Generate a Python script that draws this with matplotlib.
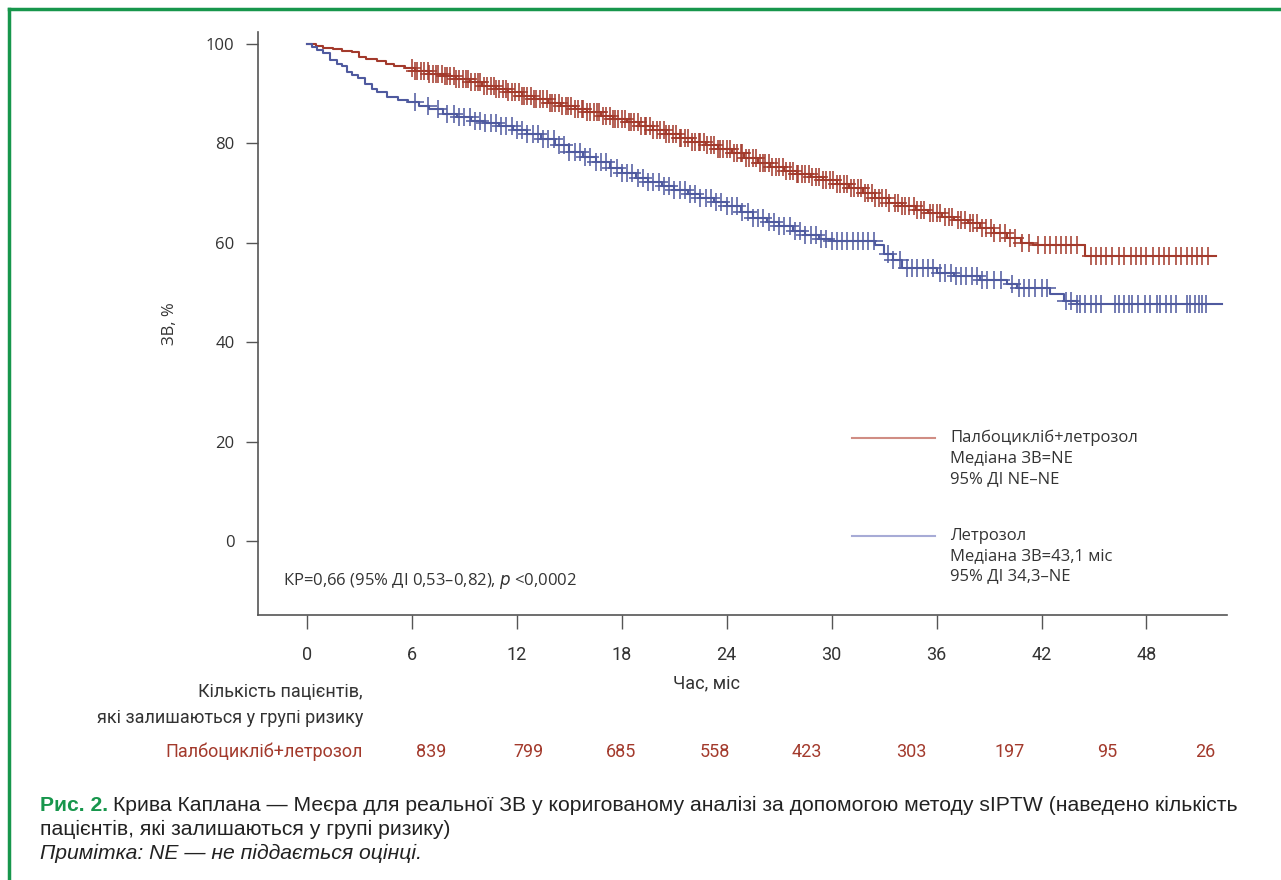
import numpy as np
import matplotlib.pyplot as plt
from matplotlib.lines import Line2D

# --- data ---
red_t = [0, 0.5, 0.9, 1.5, 2.0, 2.6, 3.0, 3.4, 4.0, 4.5, 5.0, 5.6, 6.2, 7.0, 7.8, 8.5,
         9.3, 10.0, 10.8, 11.5, 12.3, 13.0, 13.8, 14.5, 15.3, 16.0, 16.8, 17.5, 18.3,
         19.0, 19.8, 20.5, 21.3, 22.0, 22.8, 23.5, 24.3, 25.0, 25.8, 26.5, 27.3, 28.0,
         28.8, 29.5, 30.3, 31.0, 31.8, 32.5, 33.3, 34.0, 34.8, 35.5, 36.3, 37.0, 37.8,
         38.5, 39.3, 40.0, 40.8, 41.5, 44.5, 52.0]
red_s = [100, 99.6, 99.2, 98.9, 98.6, 98.3, 97.3, 96.9, 96.5, 96.0, 95.6, 95.2, 94.6,
         94.0, 93.5, 92.9, 92.3, 91.6, 91.0, 90.3, 89.6, 88.9, 88.2, 87.6, 86.9, 86.3,
         85.6, 85.0, 84.2, 83.4, 82.6, 81.8, 81.0, 80.3, 79.6, 78.9, 78.0, 77.0, 76.0,
         75.2, 74.4, 73.8, 73.2, 72.6, 71.8, 71.0, 70.0, 69.0, 68.0, 67.3, 66.6, 65.9,
         65.2, 64.6, 63.9, 63.0, 62.0, 61.0, 60.0, 59.6, 57.3, 57.3]

blue_t = [0, 0.3, 0.6, 0.9, 1.3, 1.7, 2.0, 2.3, 2.6, 2.9, 3.3, 3.7, 4.0, 4.6, 5.2, 5.8,
          6.4, 7.0, 7.8, 8.6, 9.4, 10.2, 11.0, 11.8, 12.6, 13.4, 14.2, 15.0, 15.8, 16.5,
          17.3, 18.0, 18.8, 19.5, 20.3, 21.0, 21.8, 22.5, 23.3, 24.0, 24.8, 25.5, 26.3,
          27.0, 27.8, 28.5, 29.3, 30.0, 32.5, 33.0, 33.5, 34.0, 36.0, 37.0, 38.5, 40.0,
          40.6, 42.5, 43.3, 44.0, 52.3]
blue_s = [100, 99.4, 98.8, 98.2, 96.8, 96.0, 95.6, 94.4, 93.8, 93.2, 92.0, 91.0, 90.3,
          89.4, 88.8, 88.4, 87.6, 86.9, 86.0, 85.3, 84.6, 84.0, 83.4, 82.6, 81.8, 80.9,
          79.6, 78.3, 77.2, 76.2, 75.0, 74.0, 73.0, 72.2, 71.4, 70.6, 69.8, 69.0, 68.3,
          67.4, 66.2, 65.0, 64.1, 63.3, 62.4, 61.6, 60.8, 60.3, 59.5, 57.8, 56.5, 55.0,
          54.0, 53.4, 52.6, 51.8, 50.8, 49.6, 48.2, 47.6, 47.6]

red_cens = [6.0, 6.2, 6.3, 6.5, 6.7, 6.9, 7.0, 7.2, 7.4, 7.5, 7.7, 7.9, 8.0, 8.2, 8.4,
            8.5, 8.7, 8.9, 9.1, 9.2, 9.4, 9.6, 9.8, 9.9, 10.1, 10.3, 10.5, 10.7, 10.8,
            11.0, 11.2, 11.4, 11.5, 11.7, 11.9, 12.1, 12.3, 12.4, 12.6, 12.8, 13.0, 13.1,
            13.3, 13.5, 13.7, 13.9, 14.0, 14.2, 14.4, 14.6, 14.8, 14.9, 15.1, 15.3, 15.5,
            15.7, 15.8, 16.0, 16.2, 16.4, 16.6, 16.7, 16.9, 17.1, 17.3, 17.5, 17.6, 17.8,
            18.0, 18.2, 18.4, 18.5, 18.7, 18.9, 19.1, 19.3, 19.4, 19.6, 19.8, 20.0, 20.2,
            20.4, 20.5, 20.7, 20.9, 21.1, 21.3, 21.4, 21.6, 21.8, 22.0, 22.2, 22.4, 22.5,
            22.7, 22.9, 23.1, 23.3, 23.5, 23.6, 23.8, 24.0, 24.2, 24.4, 24.6, 24.8, 24.9,
            25.1, 25.3, 25.5, 25.7, 25.9, 26.1, 26.2, 26.4, 26.6, 26.8, 27.0, 27.2, 27.4,
            27.6, 27.8, 28.0, 28.1, 28.3, 28.5, 28.7, 28.9, 29.1, 29.3, 29.5, 29.7, 29.9,
            30.1, 30.3, 30.5, 30.7, 30.9, 31.1, 31.3, 31.5, 31.7, 31.9, 32.1, 32.3, 32.5,
            32.7, 32.9, 33.1, 33.3, 33.6, 33.8, 34.0, 34.2, 34.4, 34.7, 34.9, 35.1, 35.3,
            35.6, 35.8, 36.0, 36.2, 36.5, 36.7, 36.9, 37.2, 37.4, 37.6, 37.9, 38.1, 38.3,
            38.6, 38.8, 39.1, 39.3, 39.6, 39.9, 40.2, 40.5, 40.9, 41.3, 41.8, 42.2, 42.5,
            42.8, 43.1, 43.4, 43.7, 44.0, 44.8, 45.1, 45.4, 45.7, 46.0, 46.4, 46.7, 47.1,
            47.4, 47.7, 48.0, 48.4, 48.7, 49.0, 49.3, 49.7, 50.0, 50.3, 50.6, 50.9, 51.2,
            51.5]
blue_cens = [6.2, 6.9, 7.5, 8.0, 8.4, 8.7, 9.0, 9.3, 9.6, 9.9, 10.2, 10.5, 10.8, 11.1,
             11.4, 11.7, 12.0, 12.3, 12.6, 12.9, 13.2, 13.5, 13.8, 14.1, 14.4, 14.7, 15.0,
             15.3, 15.6, 15.9, 16.2, 16.5, 16.8, 17.1, 17.4, 17.7, 18.0, 18.3, 18.6, 18.9,
             19.2, 19.5, 19.8, 20.1, 20.4, 20.7, 21.0, 21.3, 21.6, 21.9, 22.2, 22.5, 22.8,
             23.1, 23.4, 23.7, 24.0, 24.3, 24.6, 24.9, 25.2, 25.5, 25.8, 26.1, 26.4, 26.7,
             27.0, 27.3, 27.6, 27.9, 28.2, 28.5, 28.8, 29.1, 29.4, 29.7, 30.0, 30.3, 30.6,
             30.9, 31.2, 31.5, 31.8, 32.1, 32.4, 33.2, 33.5, 33.9, 34.3, 34.6, 34.9, 35.2,
             35.5, 35.8, 36.2, 36.5, 36.8, 37.1, 37.4, 37.7, 38.0, 38.3, 38.6, 38.9, 39.3,
             39.7, 40.3, 40.7, 41.0, 41.3, 41.6, 42.0, 42.3, 43.4, 43.7, 44.0, 44.2, 44.5,
             44.8, 45.1, 45.4, 46.2, 46.4, 46.7, 47.0, 47.2, 47.5, 47.9, 48.2, 48.6, 48.8,
             49.1, 49.4, 49.7, 50.3, 50.5, 50.8, 51.0, 51.2, 51.4]

x_ticks = [0, 6, 12, 18, 24, 30, 36, 42, 48]
y_ticks = [0, 20, 40, 60, 80, 100]
at_risk = [839, 799, 685, 558, 423, 303, 197, 95, 26]

RED = '#a33a2c'
BLUE = '#4f5a9f'
GREEN = '#17964c'
GREY = '#333333'

NARROW = ['Roboto', 'DejaVu Sans']
SANS = ['Open Sans', 'DejaVu Sans']
CAP = ['Liberation Sans', 'DejaVu Sans']


def step_at(t, s, x):
    idx = np.searchsorted(t, x, side='right') - 1
    return np.asarray(s)[idx]


fig = plt.figure(figsize=(12.81, 8.8), dpi=100)
ax = fig.add_axes([0.2014, 0.3011, 0.7564, 0.6625])

for t, s, cens, col in [(red_t, red_s, red_cens, RED), (blue_t, blue_s, blue_cens, BLUE)]:
    ax.plot(t, s, drawstyle='steps-post', color=col, lw=1.5)
    ax.plot(cens, step_at(t, s, cens), ls='none', marker='+', ms=13, mew=1.4,
            color=col, alpha=0.8)

ax.set_xlim(-2.8, 52.6)
ax.set_ylim(-14.9, 102.4)
ax.set_xticks(x_ticks)
ax.set_yticks(y_ticks)
ax.set_xticklabels([str(v) for v in x_ticks], family=NARROW, fontsize=13, color=GREY)
ax.set_yticklabels([str(v) for v in y_ticks], family=SANS, fontsize=12, color=GREY)
for sp in ['top', 'right']:
    ax.spines[sp].set_visible(False)
for sp in ['left', 'bottom']:
    ax.spines[sp].set_color('#555555')
    ax.spines[sp].set_linewidth(1.2)
ax.tick_params(axis='y', length=9, width=1, color='#555555', pad=8)
ax.tick_params(axis='x', length=10, width=1, color='#555555', pad=12)
ax.set_ylabel('ЗВ, %', family=SANS, fontsize=12, color=GREY, labelpad=20)

# legend block
for ypx, col, lines in [(438, '#d08d84', ['Палбоцикліб+летрозол', 'Медіана ЗВ=NE', '95% ДІ NE–NE']),
                        (536, '#a7abd6', ['Летрозол', 'Медіана ЗВ=43,1 міс', '95% ДІ 34,3–NE'])]:
    fig.add_artist(Line2D([852 / 1281, 935 / 1281], [1 - ypx / 880, 1 - ypx / 880],
                          color=col, lw=1.5))
    fig.text(950 / 1281, 1 - (ypx - 8) / 880, '\n'.join(lines), family=SANS, fontsize=12,
             color=GREY, va='top', ha='left', linespacing=1.35)

fig.text(283 / 1281, 1 - 581 / 880, 'КР=0,66 (95% ДІ 0,53–0,82), $p$ <0,0002',
         family=SANS, fontsize=12, color=GREY, va='center', ha='left')

# x label and at-risk table
fig.text(707 / 1281, 1 - 683 / 880, 'Час, міс', family=NARROW, fontsize=13,
         color=GREY, ha='center', va='center')
fig.text(363 / 1281, 1 - 692 / 880, 'Кількість пацієнтів,', family=NARROW, fontsize=13,
         color=GREY, ha='right', va='center')
fig.text(363 / 1281, 1 - 718 / 880, 'які залишаються у групі ризику', family=NARROW,
         fontsize=13, color=GREY, ha='right', va='center')
fig.text(363 / 1281, 1 - 752 / 880, 'Палбоцикліб+летрозол', family=NARROW, fontsize=13,
         color=RED, ha='right', va='center')
risk_px = [431, 528, 621, 715, 807, 911, 1010, 1107, 1205]
for n, px in zip(at_risk, risk_px):
    fig.text(px / 1281, 1 - 752 / 880, str(n), family=NARROW, fontsize=13, color=RED,
             ha='center', va='center')

# caption
cap_fs = 15.2
lbl = fig.text(40 / 1281, 1 - 805 / 880, 'Рис. 2.', family=CAP, fontsize=cap_fs, color=GREEN,
               weight='bold', ha='left', va='center')
fig.canvas.draw()
bb = lbl.get_window_extent(fig.canvas.get_renderer())
fig.text((bb.x1 + 5) / 1281, 1 - 805 / 880,
         'Крива Каплана — Меєра для реальної ЗВ у коригованому аналізі за допомогою методу sIPTW (наведено кількість',
         family=CAP, fontsize=cap_fs, color='#222222', ha='left', va='center')
fig.text(40 / 1281, 1 - 829 / 880, 'пацієнтів, які залишаються у групі ризику)',
         family=CAP, fontsize=cap_fs, color='#222222', ha='left', va='center')
fig.text(40 / 1281, 1 - 853 / 880, 'Примітка: NE — не піддається оцінці.',
         family=CAP, fontsize=cap_fs, color='#222222', style='italic', ha='left', va='center')

# green frame (left and top)
fig.add_artist(Line2D([9 / 1281, 9 / 1281], [0, 1 - 9 / 880], color=GREEN, lw=2.5))
fig.add_artist(Line2D([9 / 1281, 1], [1 - 9 / 880, 1 - 9 / 880], color=GREEN, lw=2.5))

fig.savefig('out.png', dpi=100)
